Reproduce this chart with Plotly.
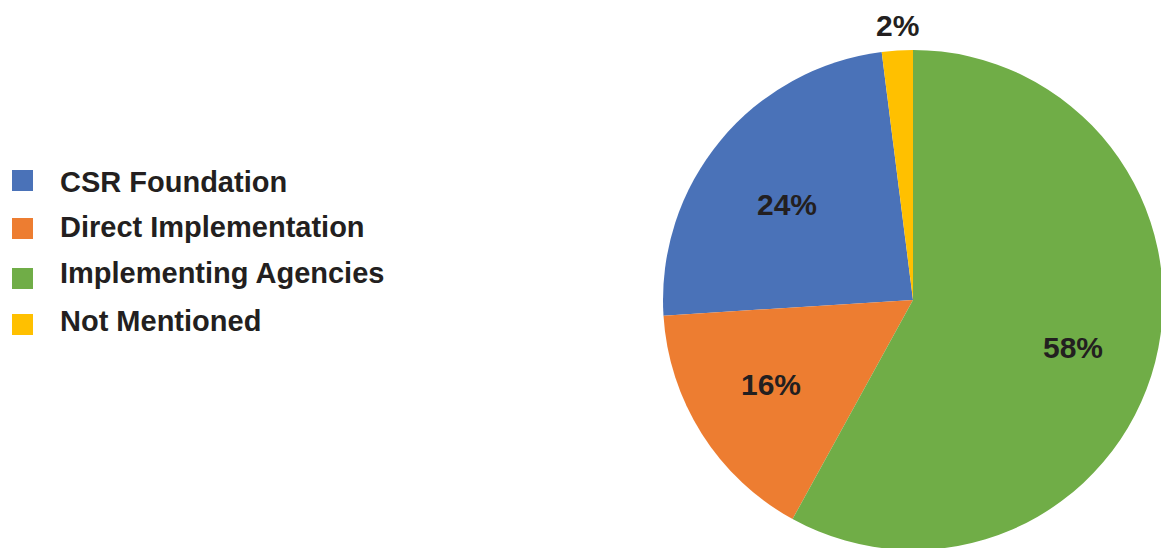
import math
import plotly.graph_objects as go

# Data
labels = ["CSR Foundation", "Direct Implementation", "Implementing Agencies", "Not Mentioned"]
values = [24, 16, 58, 2]
colors = ["#4a72b8", "#ed7d31", "#70ad47", "#ffc000"]

# Label placement styles: radius fraction and small angle nudge (degrees) per slice
label_radius = [0.632, 0.662, 0.667, 1.10]
label_nudge = [-2.6, 1.5, 2.0, 0.3]

# Figure slightly larger than the 1161x548 window so the pie runs off the edges like the original
W, H = 1163, 550
TXT = "#231f20"
FONT = "Liberation Sans, Arial, Helvetica, sans-serif"


def px2x(px):
    return px / W


def py2y(py):
    return 1 - py / H


cx, cy, R = 913, 300, 250
total = sum(values)
rotation = -360 * (values[0] + values[3]) / total

fig = go.Figure(go.Pie(
    labels=labels,
    values=values,
    sort=False,
    direction="counterclockwise",
    rotation=rotation,
    marker=dict(colors=colors, line=dict(width=0)),
    textinfo="none",
    showlegend=False,
    domain=dict(x=[px2x(cx - R), px2x(cx + R)], y=[py2y(cy + R), py2y(cy - R)]),
    hoverinfo="label+percent",
))

annotations = []
# Percentage labels along each slice's mid angle (counterclockwise layout:
# slice 0 spans clockwise angles [rotation, rotation + its share], later slices sit before it)
for i, (v, rf, dn) in enumerate(zip(values, label_radius, label_nudge)):
    before = sum(values[:i])
    hi = rotation + 360 * (values[0] - before) / total
    lo = hi - 360 * v / total
    mid = math.radians((hi + lo) / 2 + dn)
    px = cx + rf * R * math.sin(mid)
    py = cy - rf * R * math.cos(mid)
    annotations.append(dict(xref="paper", yref="paper", x=px2x(px), y=py2y(py),
                            xanchor="center", yanchor="middle", showarrow=False,
                            text=f"<b>{round(100 * v / total)}%</b>",
                            font=dict(family=FONT, size=30, color=TXT)))

# Custom legend (large square swatches)
sq_y = [180.5, 228.5, 278.5, 324.5]
tx_y = [182, 226.5, 272.5, 321]
shapes = []
for lab, col, sy, ty in zip(labels, colors, sq_y, tx_y):
    shapes.append(dict(type="rect", xref="paper", yref="paper",
                       x0=px2x(12), x1=px2x(33), y0=py2y(sy + 10.5), y1=py2y(sy - 10.5),
                       fillcolor=col, line=dict(width=0)))
    annotations.append(dict(xref="paper", yref="paper", x=px2x(58), y=py2y(ty),
                            xanchor="left", yanchor="middle", showarrow=False,
                            text=f"<b>{lab}</b>",
                            font=dict(family=FONT, size=29, color=TXT)))

fig.update_layout(
    width=W, height=H,
    margin=dict(l=0, r=0, t=0, b=0),
    paper_bgcolor="white",
    plot_bgcolor="white",
    shapes=shapes,
    annotations=annotations,
)

fig.write_html(
    "out.html",
    config={"displayModeBar": False},
    post_script="document.body.style.margin='0';document.body.style.overflow='hidden';",
)
